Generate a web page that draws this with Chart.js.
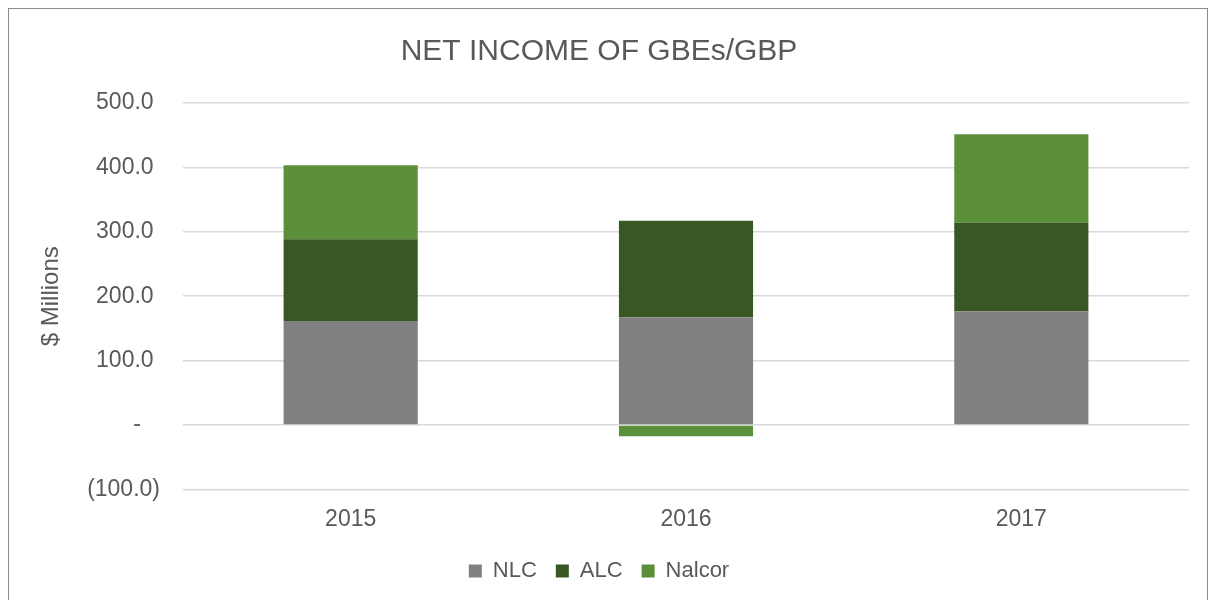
<!DOCTYPE html>
<html lang="en">
<head>
  <meta charset="UTF-8">
  <title>Net Income of GBEs/GBP</title>
  <script src="https://cdn.jsdelivr.net/npm/chart.js"></script>
  <style>
    body { margin: 0; background: #fff; }
    #box { position: absolute; left: 8px; top: 8px; width: 1198px; height: 600px; border: 1px solid #8c8c8c; }
  </style>
</head>
<body>
  <div id="box"><canvas id="chart" width="1198" height="600"></canvas></div>

  <script>
    const years = ['2015', '2016', '2017'];
    const nlc = [161.3, 167.5, 176.8];
    const alc = [127.0, 149.8, 137.4];
    const nalcor = [115.1, -17.6, 137.4];

    const txt = '#595959';
    const font = "'Liberation Sans', Arial, sans-serif";

    // accounting style: dash for zero, parentheses for negatives
    function fmt(v) {
      if (v === 0) return '-   ';
      if (v < 0) return '(' + Math.abs(v).toFixed(1) + ')';
      return v.toFixed(1) + ' ';
    }

    new Chart(document.getElementById('chart'), {
      type: 'bar',
      data: {
        labels: years,
        datasets: [
          { label: 'NLC', data: nlc, backgroundColor: '#808080' },
          { label: 'ALC', data: alc, backgroundColor: '#385723' },
          { label: 'Nalcor', data: nalcor, backgroundColor: '#5b8f3a' }
        ]
      },
      options: {
        responsive: false,
        animation: false,
        layout: { padding: { left: 0, right: 18, top: 0, bottom: 17 } },
        datasets: { bar: { categoryPercentage: 0.4, barPercentage: 1.0, borderWidth: 0 } },
        plugins: {
          title: {
            display: true,
            text: 'NET INCOME OF GBEs/GBP',
            color: txt,
            font: { family: font, size: 30, weight: 'normal' },
            padding: { top: 25, bottom: 33 }
          },
          legend: {
            position: 'bottom',
            labels: {
              color: txt,
              font: { family: font, size: 22 },
              usePointStyle: true,
              pointStyle: 'rect',
              boxWidth: 13,
              boxHeight: 13,
              padding: 19
            }
          },
          tooltip: { enabled: false }
        },
        scales: {
          x: {
            stacked: true,
            grid: { display: false },
            border: { display: false },
            ticks: { color: txt, font: { family: font, size: 23 }, padding: 8 }
          },
          y: {
            stacked: true,
            min: -100,
            max: 500,
            ticks: {
              stepSize: 100,
              color: txt,
              font: { family: font, size: 23 },
              padding: 23,
              callback: v => fmt(v)
            },
            grid: { color: '#d9d9d9', lineWidth: 1.5, drawTicks: false },
            border: { display: false },
            title: {
              display: true,
              text: '$ Millions',
              color: txt,
              font: { family: font, size: 24 },
              padding: { top: 28, bottom: 0 }
            },
            afterFit: s => { s.width = 174; }
          }
        }
      }
    });
  </script>
</body>
</html>
